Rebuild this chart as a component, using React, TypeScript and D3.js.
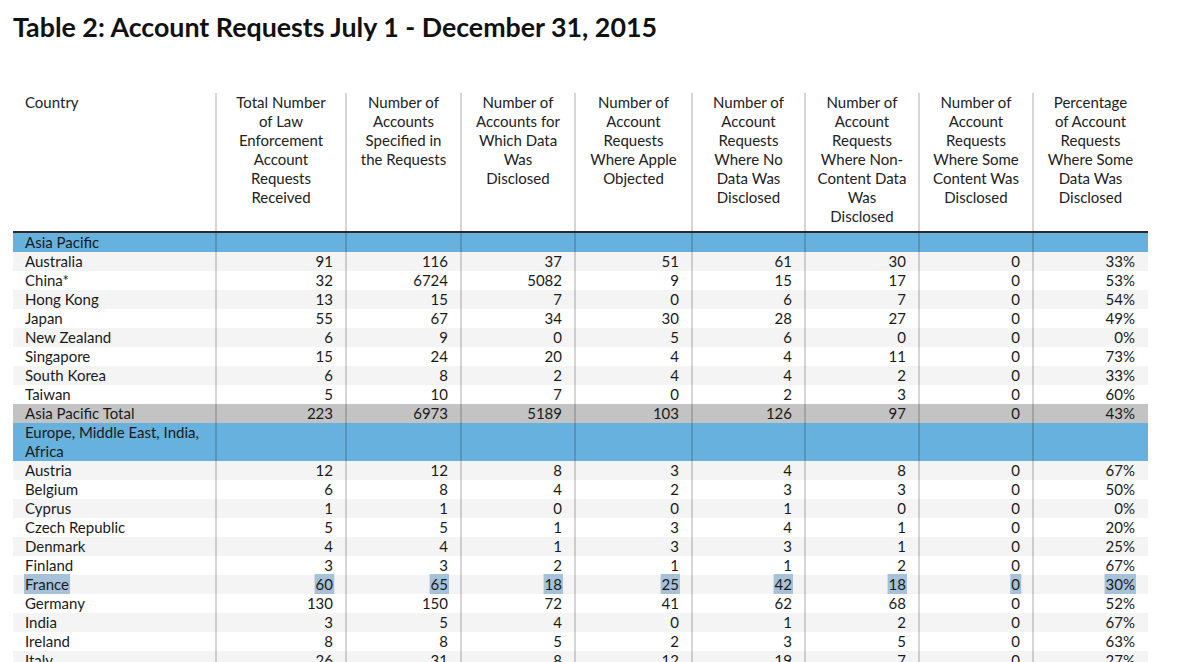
import React, { useEffect, useRef } from "react";
import * as d3 from "d3";

const title = "Table 2: Account Requests July 1 - December 31, 2015";

const headers: string[][] = [
  ["Country"],
  ["Total Number", "of Law", "Enforcement", "Account", "Requests", "Received"],
  ["Number of", "Accounts", "Specified in", "the Requests"],
  ["Number of", "Accounts for", "Which Data", "Was", "Disclosed"],
  ["Number of", "Account", "Requests", "Where Apple", "Objected"],
  ["Number of", "Account", "Requests", "Where No", "Data Was", "Disclosed"],
  ["Number of", "Account", "Requests", "Where Non-", "Content Data", "Was", "Disclosed"],
  ["Number of", "Account", "Requests", "Where Some", "Content Was", "Disclosed"],
  ["Percentage", "of Account", "Requests", "Where Some", "Data Was", "Disclosed"],
];

const countries = [
  "Australia", "China*", "Hong Kong", "Japan", "New Zealand", "Singapore", "South Korea", "Taiwan",
  "Asia Pacific Total",
  "Austria", "Belgium", "Cyprus", "Czech Republic", "Denmark", "Finland", "France", "Germany", "India", "Ireland", "Italy",
];
const received = [91, 32, 13, 55, 6, 15, 6, 5, 223, 12, 6, 1, 5, 4, 3, 60, 130, 3, 8, 26];
const accountsSpecified = [116, 6724, 15, 67, 9, 24, 8, 10, 6973, 12, 8, 1, 5, 4, 3, 65, 150, 5, 8, 31];
const accountsDisclosed = [37, 5082, 7, 34, 0, 20, 2, 7, 5189, 8, 4, 0, 1, 1, 2, 18, 72, 4, 5, 8];
const appleObjected = [51, 9, 0, 30, 5, 4, 4, 0, 103, 3, 2, 0, 3, 3, 1, 25, 41, 0, 2, 12];
const noDataDisclosed = [61, 15, 6, 28, 6, 4, 4, 2, 126, 4, 3, 1, 4, 3, 1, 42, 62, 1, 3, 19];
const nonContentDisclosed = [30, 17, 7, 27, 0, 11, 2, 3, 97, 8, 3, 0, 1, 1, 2, 18, 68, 2, 5, 7];
const contentDisclosed = [0, 0, 0, 0, 0, 0, 0, 0, 0, 0, 0, 0, 0, 0, 0, 0, 0, 0, 0, 0];
const pctDisclosed = [33, 53, 54, 49, 0, 73, 33, 60, 43, 67, 50, 0, 20, 25, 67, 30, 52, 67, 63, 27];

const sections = [
  { label: ["Asia Pacific"], from: 0, to: 8 },
  { label: ["Europe, Middle East, India,", "Africa"], from: 9, to: 19 },
];
const totalRows = ["Asia Pacific Total"];
const highlighted = ["France"];

const FONT = "Lato, 'Open Sans', sans-serif";

export default function App() {
  const ref = useRef<SVGSVGElement>(null);

  useEffect(() => {
    const svg = d3.select(ref.current!);
    svg.selectAll("*").remove();

    const colEdges = [13, 216, 346, 461, 575, 692, 805, 919, 1033, 1148];
    const lineH = 19;
    const tableTop = 233;
    const yLine = d3.scaleLinear().domain([0, 1]).range([tableTop, tableTop + lineH]);

    // title
    svg.append("text")
      .attr("x", 13).attr("y", 37)
      .attr("font-family", "'Liberation Sans Narrow', Lato, sans-serif")
      .attr("font-weight", 700).attr("font-size", 27)
      .attr("textLength", 644).attr("lengthAdjust", "spacingAndGlyphs")
      .attr("fill", "#111")
      .text(title);

    // Build rows
    type Row = { kind: "section" | "data" | "total"; lines: number; label: string[]; idx: number; stripe: boolean };
    const rows: Row[] = [];
    sections.forEach((s) => {
      rows.push({ kind: "section", lines: s.label.length, label: s.label, idx: -1, stripe: false });
      let k = 0;
      for (let i = s.from; i <= s.to; i++) {
        const isTotal = totalRows.includes(countries[i]);
        rows.push({ kind: isTotal ? "total" : "data", lines: 1, label: [countries[i]], idx: i, stripe: !isTotal && k % 2 === 0 });
        if (!isTotal) k++;
      }
    });

    const values = [received, accountsSpecified, accountsDisclosed, appleObjected, noDataDisclosed, nonContentDisclosed, contentDisclosed, pctDisclosed];

    const g = svg.append("g");
    const textG = svg.append("g");
    let lineIdx = 0;
    const hlItems: { x: number; y: number; anchor: string; text: string; row: number }[] = [];
    rows.forEach((r) => {
      const y0 = yLine(lineIdx);
      const y1 = yLine(lineIdx + r.lines);
      let fill = "#ffffff";
      if (r.kind === "section") fill = "#67b1de";
      else if (r.kind === "total") fill = "#c3c3c4";
      else if (r.stripe) fill = "#f4f4f4";
      g.append("rect").attr("x", colEdges[0]).attr("y", y0).attr("width", colEdges[9] - colEdges[0]).attr("height", y1 - y0).attr("fill", fill);

      r.label.forEach((t, li) => {
        const by = yLine(lineIdx + li) + 14.5;
        textG.append("text").attr("x", 25).attr("y", by).attr("font-family", FONT).attr("font-size", 15).attr("fill", "#1a1a1a").text(t);
        if (r.kind !== "section" && highlighted.includes(t)) hlItems.push({ x: 25, y: yLine(lineIdx), anchor: "start", text: t, row: lineIdx });
      });
      if (r.kind !== "section") {
        values.forEach((arr, c) => {
          const v = arr[r.idx];
          const txt = c === 7 ? `${v}%` : `${v}`;
          const rx = colEdges[c + 2] - 13;
          textG.append("text").attr("x", rx).attr("y", yLine(lineIdx) + 14.5).attr("text-anchor", "end")
            .attr("font-family", FONT).attr("font-size", 15).attr("fill", "#1a1a1a").text(txt);
          if (highlighted.includes(countries[r.idx])) hlItems.push({ x: rx, y: yLine(lineIdx), anchor: "end", text: txt, row: lineIdx });
        });
      }
      lineIdx += r.lines;
    });

    // highlight rects (selection)
    const hlG = g.append("g");
    hlItems.forEach((h) => {
      const tmp = textG.append("text").attr("x", h.x).attr("y", h.y + 14.5).attr("text-anchor", h.anchor)
        .attr("font-family", FONT).attr("font-size", 15).text(h.text).attr("opacity", 0);
      const bb = (tmp.node() as SVGTextElement).getBBox();
      tmp.remove();
      hlG.append("rect").attr("x", bb.x - 1).attr("y", h.y - 1).attr("width", bb.width + 2).attr("height", lineH + 1).attr("fill", "#a6c2d8");
    });

    // vertical lines
    const vG = svg.append("g");
    colEdges.slice(1, 9).forEach((x) => {
      vG.append("line").attr("x1", x).attr("x2", x).attr("y1", 93).attr("y2", 662)
        .attr("stroke", "rgba(0,0,0,0.27)").attr("stroke-width", 1.2);
    });

    // header bottom rule
    svg.append("line").attr("x1", colEdges[0]).attr("x2", colEdges[9]).attr("y1", 232).attr("y2", 232)
      .attr("stroke", "#2a2a2a").attr("stroke-width", 2);

    // headers
    headers.forEach((lines, c) => {
      const cx = c === 0 ? 25 : (colEdges[c] + colEdges[c + 1]) / 2;
      lines.forEach((t, li) => {
        svg.append("text").attr("x", cx).attr("y", 108 + li * 19).attr("text-anchor", c === 0 ? "start" : "middle")
          .attr("font-family", FONT).attr("font-size", 15).attr("fill", "#222").text(t);
      });
    });
  }, []);

  return (
    <svg ref={ref} width={1200} height={662} style={{ position: "absolute", left: 0, top: 0, background: "#fff" }} />
  );
}
